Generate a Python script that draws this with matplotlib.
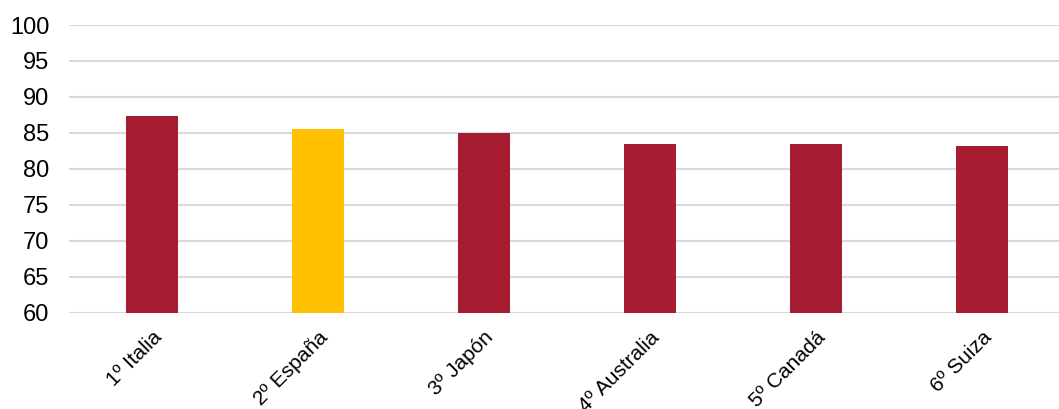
import matplotlib.pyplot as plt

plt.rcParams['font.family'] = ['Liberation Sans', 'DejaVu Sans']

paises = ['1º Italia', '2º España', '3º Japón', '4º Australia', '5º Canadá', '6º Suiza']
valores = [87.3, 85.5, 85.0, 83.5, 83.4, 83.2]
colores = ['#A61C31', '#FFC000', '#A61C31', '#A61C31', '#A61C31', '#A61C31']
yticks = [60, 65, 70, 75, 80, 85, 90, 95, 100]

fig = plt.figure(figsize=(10.59, 4.09), dpi=100)
ax = fig.add_axes([69 / 1059, 96.3 / 409, 996 / 1059, 287.7 / 409])

x = range(len(paises))
ax.bar(x, [v - 60 for v in valores], bottom=60, width=0.31, color=colores, zorder=3)

ax.set_ylim(60, 100)
ax.set_xlim(-0.5, len(paises) - 0.5)
ax.set_yticks(yticks)
ax.set_yticklabels([str(t) for t in yticks], fontsize=17)
ax.set_xticks(list(x))
ax.set_xticklabels(paises, fontsize=15, rotation=45, ha='right', rotation_mode='anchor')

ax.grid(axis='y', color='#d9d9d9', linewidth=1.5, zorder=0)
ax.tick_params(axis='both', length=0)
ax.tick_params(axis='y', pad=14)
ax.tick_params(axis='x', pad=11)
for s in ax.spines.values():
    s.set_visible(False)

plt.savefig('out.png', dpi=100)
